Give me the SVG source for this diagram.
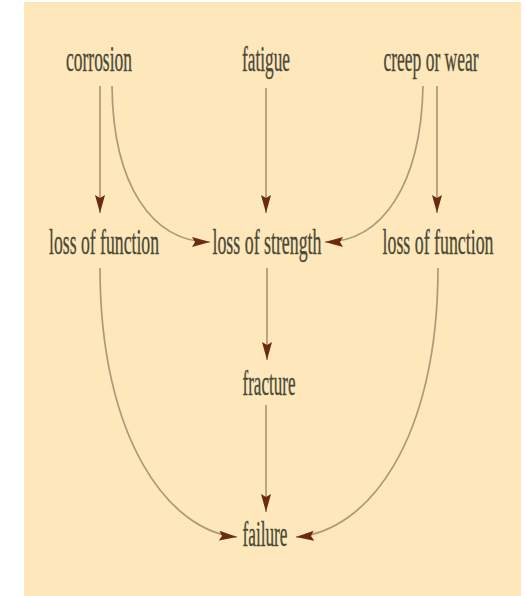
<svg xmlns="http://www.w3.org/2000/svg" width="525" height="596" viewBox="0 0 525 596">
  <defs>
    <style>
      .lbl { font-family: "Liberation Serif", "Times New Roman", serif; font-size: 35px; fill: #4a4936; stroke: #4a4936; stroke-width: 0.35; text-anchor: middle; }
      .edge { fill: none; stroke: #a99a78; stroke-width: 1.7; }
    </style>
    <marker id="arr" viewBox="0 0 18 10" refX="18" refY="5" markerWidth="18" markerHeight="10" markerUnits="userSpaceOnUse" orient="auto">
      <path d="M0,0 L18,5 L0,10 L3,5 z" fill="#6b2a12"/>
    </marker>
  </defs>
  <rect x="0" y="0" width="525" height="596" fill="#ffffff"/>
  <rect x="24" y="2" width="497" height="594" fill="#fde7bb"/>

  <g id="connectors">
    <path class="edge" d="M100,86 L100,213" marker-end="url(#arr)"/>
    <path class="edge" d="M112,86 C113,185 152,242 210,242" marker-end="url(#arr)"/>
    <path class="edge" d="M266,88 L266,213" marker-end="url(#arr)"/>
    <path class="edge" d="M423,86 C421,185 382,242 325,242" marker-end="url(#arr)"/>
    <path class="edge" d="M437,86 L437,213" marker-end="url(#arr)"/>
    <path class="edge" d="M100,268 C100,440 170,532 237,537" marker-end="url(#arr)"/>
    <path class="edge" d="M438,268 C438,440 368,532 296,537" marker-end="url(#arr)"/>
    <path class="edge" d="M267,268 L267,360" marker-end="url(#arr)"/>
    <path class="edge" d="M266,405 L266,512" marker-end="url(#arr)"/>
  </g>

  <g id="corrosion"><text class="lbl" x="99" y="71" textLength="66" lengthAdjust="spacingAndGlyphs">corrosion</text></g>
  <g id="fatigue"><text class="lbl" x="266" y="71" textLength="48" lengthAdjust="spacingAndGlyphs">fatigue</text></g>
  <g id="creep-or-wear"><text class="lbl" x="431" y="71" textLength="95" lengthAdjust="spacingAndGlyphs">creep or wear</text></g>
  <g id="loss-of-function-left"><text class="lbl" x="104" y="254" textLength="110" lengthAdjust="spacingAndGlyphs">loss of function</text></g>
  <g id="loss-of-strength"><text class="lbl" x="267" y="254" textLength="109" lengthAdjust="spacingAndGlyphs">loss of strength</text></g>
  <g id="loss-of-function-right"><text class="lbl" x="438" y="254" textLength="111" lengthAdjust="spacingAndGlyphs">loss of function</text></g>
  <g id="fracture"><text class="lbl" x="269" y="395" textLength="53" lengthAdjust="spacingAndGlyphs">fracture</text></g>
  <g id="failure"><text class="lbl" x="265" y="546" textLength="45" lengthAdjust="spacingAndGlyphs">failure</text></g>
</svg>
